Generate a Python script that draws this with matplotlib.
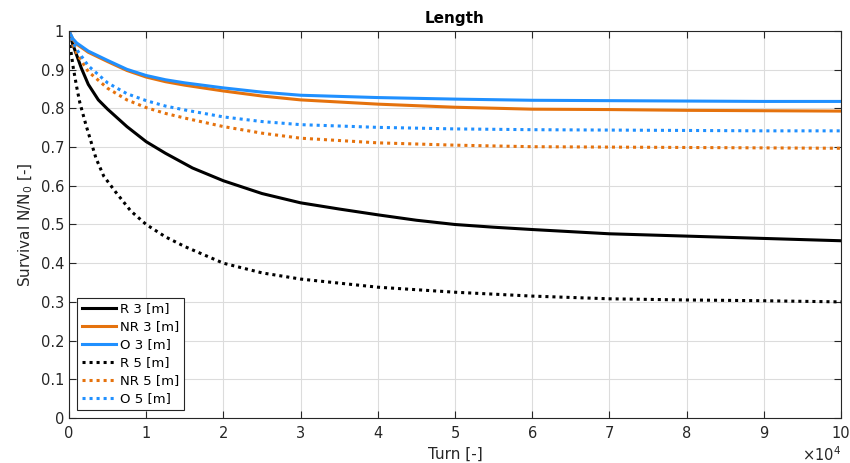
import matplotlib
matplotlib.use("Agg")
import matplotlib.pyplot as plt
from matplotlib.ticker import MultipleLocator, FuncFormatter

# x positions in turns
x_r3 = [0, 500, 1600, 2500, 3800, 5000, 7500, 10000, 12500, 16000, 20000, 25000, 30000, 35000, 40000, 45000, 50000, 55000, 60000, 70000, 80000, 90000, 100000]
y_r3 = [1.0, 0.965, 0.904, 0.862, 0.822, 0.798, 0.753, 0.714, 0.684, 0.646, 0.613, 0.58, 0.556, 0.54, 0.525, 0.511, 0.500, 0.493, 0.487, 0.476, 0.470, 0.464, 0.458]

x_r5 = [0, 130, 560, 1000, 1400, 2200, 3500, 4500, 6000, 8000, 10000, 12500, 15000, 20000, 25000, 30000, 40000, 50000, 60000, 70000, 80000, 90000, 100000]
y_r5 = [1.0, 0.964, 0.904, 0.855, 0.815, 0.757, 0.671, 0.625, 0.585, 0.535, 0.50, 0.468, 0.443, 0.40, 0.375, 0.359, 0.338, 0.325, 0.315, 0.308, 0.305, 0.303, 0.300]

x_std = [0, 500, 1000, 2500, 5000, 7500, 10000, 12500, 15000, 20000, 25000, 30000, 40000, 50000, 60000, 70000, 80000, 90000, 100000]
y_nr3 = [1.0, 0.978, 0.966, 0.945, 0.921, 0.898, 0.881, 0.869, 0.860, 0.845, 0.832, 0.822, 0.811, 0.803, 0.798, 0.797, 0.795, 0.794, 0.793]
y_o3 = [1.0, 0.980, 0.969, 0.948, 0.924, 0.901, 0.885, 0.874, 0.866, 0.853, 0.842, 0.834, 0.828, 0.824, 0.821, 0.820, 0.819, 0.818, 0.818]
y_nr5 = [1.0, 0.965, 0.942, 0.895, 0.852, 0.822, 0.802, 0.787, 0.775, 0.753, 0.736, 0.723, 0.711, 0.705, 0.701, 0.700, 0.699, 0.698, 0.697]
y_o5 = [1.0, 0.972, 0.952, 0.910, 0.866, 0.838, 0.820, 0.806, 0.796, 0.778, 0.766, 0.758, 0.751, 0.747, 0.745, 0.744, 0.743, 0.742, 0.742]

BLACK = "#000000"
ORANGE = "#e5720d"
BLUE = "#2090ff"

fig = plt.figure(figsize=(8.5, 4.63), dpi=100)
ax = fig.add_axes([69/850, 45/463, (841-69)/850, (418-31)/463])

lw = 2.2
dot = (0, (1, 1.3))
ax.plot(x_r3, y_r3, color=BLACK, lw=lw, label="R 3 [m]")
ax.plot(x_std, y_nr3, color=ORANGE, lw=lw, label="NR 3 [m]")
ax.plot(x_std, y_o3, color=BLUE, lw=lw, label="O 3 [m]")
ax.plot(x_r5, y_r5, color=BLACK, lw=lw, ls=dot, label="R 5 [m]")
ax.plot(x_std, y_nr5, color=ORANGE, lw=lw, ls=dot, label="NR 5 [m]")
ax.plot(x_std, y_o5, color=BLUE, lw=lw, ls=dot, label="O 5 [m]")

ax.set_xlim(0, 100000)
ax.set_ylim(0, 1)
ax.xaxis.set_major_locator(MultipleLocator(10000))
ax.yaxis.set_major_locator(MultipleLocator(0.1))
ax.xaxis.set_major_formatter(FuncFormatter(lambda v, p: f"{v/1e4:g}"))
ax.yaxis.set_major_formatter(FuncFormatter(lambda v, p: f"{v:g}"))

edge = "#262626"
for s in ax.spines.values():
    s.set_color(edge)
    s.set_linewidth(0.8)
ax.tick_params(direction="in", top=True, right=True, colors=edge, labelcolor="#262626",
               labelsize=10.5, length=5, width=0.8)
ax.tick_params(axis="x", pad=6)
ax.grid(True, color="#dcdcdc", lw=0.8)
ax.set_axisbelow(True)

ax.text(1.0, -0.095, r"$\times$10$^4$", transform=ax.transAxes, ha="right", va="center",
        fontsize=10.5, color="#262626")

ax.set_title("Length", fontsize=11, fontweight="bold", pad=6)
ax.set_xlabel("Turn [-]", fontsize=11, color="#262626", labelpad=4)
ax.set_ylabel("Survival N/N$_0$ [-]", fontsize=11, color="#262626")

leg = ax.legend(loc="lower left", fontsize=9.5, frameon=True, fancybox=False,
                handlelength=2.6, borderpad=0.35, labelspacing=0.38, handletextpad=0.3,
                borderaxespad=0.6)
leg.get_frame().set_edgecolor(edge)
leg.get_frame().set_linewidth(0.8)
leg.get_frame().set_alpha(1)

fig.savefig("out.png", dpi=100)
